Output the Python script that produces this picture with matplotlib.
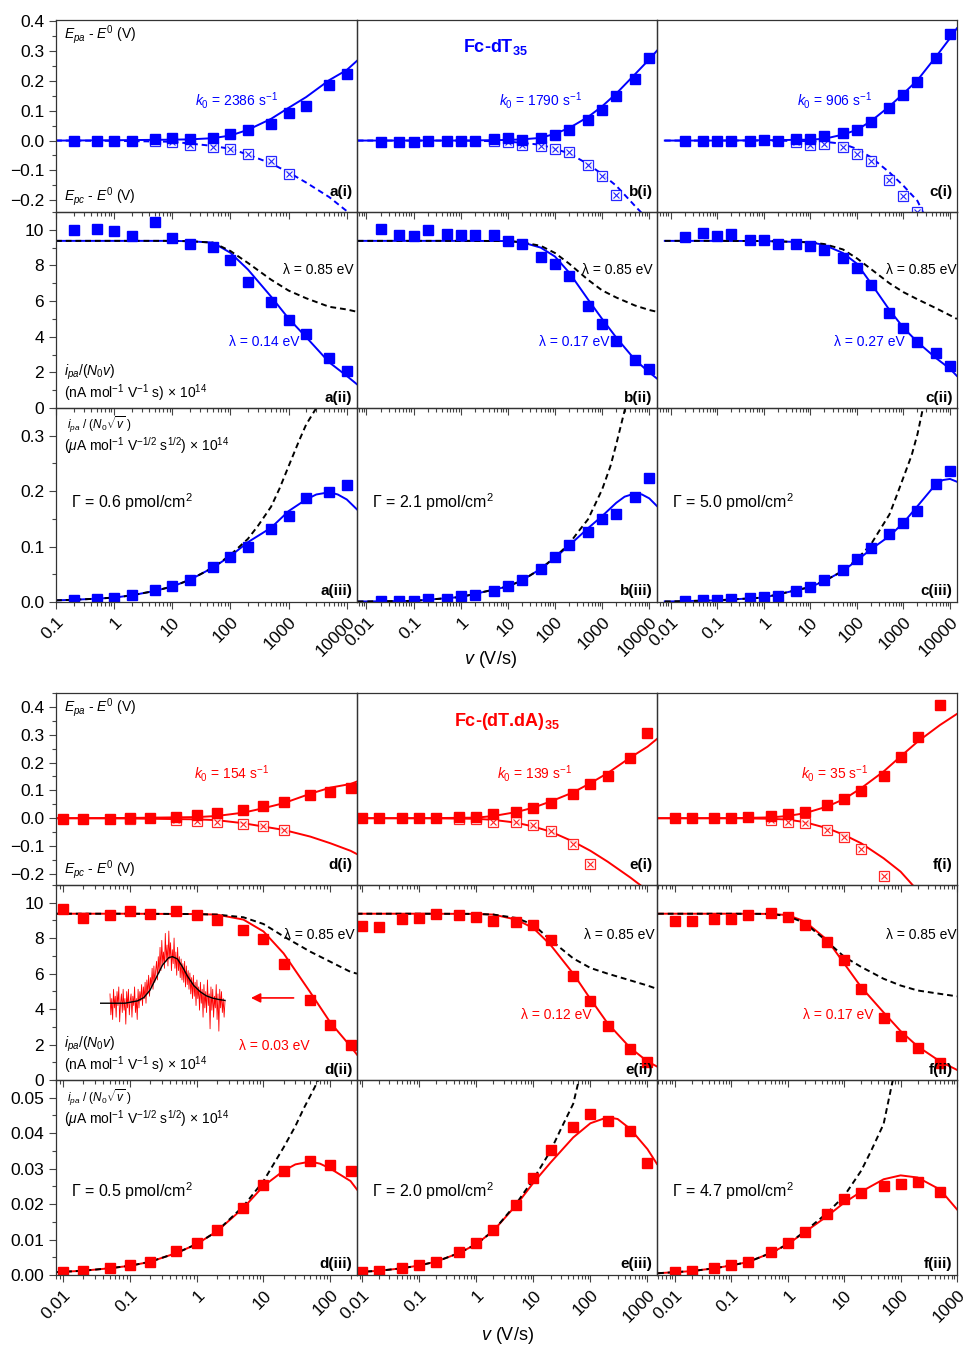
import numpy as np
import matplotlib
matplotlib.use('Agg')
import matplotlib.pyplot as plt
from matplotlib.ticker import MultipleLocator, LogLocator, NullFormatter

plt.rcParams['font.family'] = ['Liberation Sans', 'DejaVu Sans']
plt.rcParams['mathtext.fontset'] = 'custom'
plt.rcParams['mathtext.rm'] = 'Liberation Sans'
plt.rcParams['mathtext.it'] = 'Liberation Sans:italic'
plt.rcParams['mathtext.bf'] = 'Liberation Sans:bold'

# ---------------- data ----------------
# scan rates (V/s)
v_a = [0.2, 0.5, 1, 2, 5, 10, 20, 50, 100, 200, 500, 1000, 2000, 5000, 10000]
v_bc = [0.02, 0.05, 0.1, 0.2, 0.5, 1, 2, 5, 10, 20, 50, 100, 200, 500, 1000, 2000, 5000, 10000]
v_d = [0.01, 0.02, 0.05, 0.1, 0.2, 0.5, 1, 2, 5, 10, 20, 50, 100, 200]
v_e = [0.01, 0.02, 0.05, 0.1, 0.2, 0.5, 1, 2, 5, 10, 20, 50, 100, 200, 500, 1000]
v_f = [0.01, 0.02, 0.05, 0.1, 0.2, 0.5, 1, 2, 5, 10, 20, 50, 100, 200, 500]

# (i) peak potentials  Epa - E0 (filled), Epc - E0 (crossed)
epa_a = [0, 0, 0, 0, 0.006, 0.008, 0.005, 0.009, 0.023, 0.037, 0.056, 0.092, 0.116, 0.185, 0.223]
vc_a = [5, 10, 20, 50, 100, 200, 500, 1000]
epc_a = [-0.002, -0.006, -0.015, -0.023, -0.030, -0.045, -0.070, -0.113]
fitx_a = [0.1, 1, 10, 20, 50, 100, 200, 500, 1000, 2000, 5000, 10000, 15000]
epa_fit_a = [0, 0.001, 0.003, 0.004, 0.008, 0.017, 0.036, 0.073, 0.110, 0.146, 0.203, 0.237, 0.268]
epc_fit_a = [0, -0.001, -0.004, -0.010, -0.018, -0.028, -0.047, -0.077, -0.107, -0.141, -0.190, -0.237, -0.262]

epa_b = [-0.006, -0.006, -0.006, -0.002, -0.002, -0.002, -0.002, 0.006, 0.008, 0.002, 0.009, 0.019,
         0.036, 0.068, 0.104, 0.150, 0.208, 0.276]
vc_b = [5, 10, 20, 50, 100, 200, 500, 1000, 2000]
epc_b = [-0.002, -0.006, -0.014, -0.019, -0.028, -0.040, -0.081, -0.118, -0.182]
fitx_b = [0.0065, 0.1, 1, 10, 20, 50, 100, 200, 500, 1000, 2000, 5000, 10000, 14600]
epa_fit_b = [0, 0, 0, 0.002, 0.004, 0.009, 0.023, 0.042, 0.079, 0.115, 0.158, 0.223, 0.273, 0.302]
epc_fit_b = [0, 0, 0, -0.003, -0.008, -0.014, -0.028, -0.043, -0.079, -0.113, -0.152, -0.220, -0.270, -0.300]

epa_c = [0, 0, 0, 0, 0, 0.002, 0, 0.005, 0.006, 0.014, 0.026, 0.036, 0.064, 0.109, 0.152, 0.198, 0.279, 0.358]
vc_c = [5, 10, 20, 50, 100, 200, 500, 1000, 2000]
epc_c = [-0.006, -0.014, -0.011, -0.020, -0.045, -0.070, -0.133, -0.186, -0.240]
fitx_c = [0.0075, 0.1, 1, 10, 20, 50, 100, 200, 500, 1000, 2000, 5000, 10000, 14000]
epa_fit_c = [0, 0, 0.001, 0.003, 0.006, 0.020, 0.036, 0.065, 0.115, 0.158, 0.203, 0.282, 0.344, 0.377]
fitx_c_cat = [0.0075, 0.1, 1, 10, 20, 50, 100, 200, 500, 1000, 2000, 3000]
epc_fit_c = [0, 0, 0, -0.002, -0.004, -0.011, -0.028, -0.056, -0.107, -0.152, -0.203, -0.260]

epa_d = [-0.004, -0.004, -0.002, 0, 0, 0.006, 0.012, 0.018, 0.030, 0.044, 0.057, 0.084, 0.093, 0.110]
vc_d = [0.1, 0.5, 1, 2, 5, 10, 20]
epc_d = [-0.002, -0.006, -0.010, -0.014, -0.022, -0.029, -0.042]
fitx_d = [0.008, 0.1, 1, 2, 5, 10, 20, 50, 100, 200, 250]
epa_fit_d = [0, 0.001, 0.004, 0.008, 0.020, 0.036, 0.054, 0.088, 0.110, 0.123, 0.132]
epc_fit_d = [0, -0.001, -0.004, -0.007, -0.018, -0.030, -0.042, -0.066, -0.090, -0.117, -0.129]

epa_e = [0, 0, 0, 0, 0, 0.006, 0.004, 0.014, 0.024, 0.036, 0.054, 0.086, 0.123, 0.152, 0.216, 0.305]
vc_e = [0.5, 1, 2, 5, 10, 20, 50, 100]
epc_e = [-0.002, -0.002, -0.012, -0.014, -0.024, -0.046, -0.093, -0.164]
fitx_e = [0.008, 0.1, 1, 2, 5, 10, 20, 50, 100, 200, 500, 1000, 1470]
epa_fit_e = [0, 0, 0.002, 0.008, 0.022, 0.038, 0.060, 0.093, 0.126, 0.162, 0.218, 0.257, 0.285]
epc_fit_e = [0, 0, -0.002, -0.006, -0.016, -0.030, -0.048, -0.084, -0.117, -0.156, -0.213, -0.260, -0.290]

epa_f = [0, 0, 0, 0, 0.004, 0.008, 0.014, 0.022, 0.048, 0.069, 0.098, 0.152, 0.219, 0.291, 0.407]
vc_f = [0.5, 1, 2, 5, 10, 20, 50]
epc_f = [-0.006, -0.014, -0.018, -0.042, -0.066, -0.110, -0.206]
fitx_f = [0.005, 0.1, 0.5, 1, 2, 5, 10, 20, 50, 100, 200, 500, 1000]
epa_fit_f = [0, 0, 0.003, 0.008, 0.018, 0.042, 0.069, 0.108, 0.168, 0.222, 0.275, 0.335, 0.375]
fitx_f_cat = [0.005, 0.1, 0.5, 1, 2, 5, 10, 20, 50, 100, 200]
epc_fit_f = [0, 0, -0.002, -0.005, -0.014, -0.036, -0.060, -0.090, -0.144, -0.192, -0.260]

# (ii) ipa/(N0 v)
ip_a = [10.0, 10.04, 9.94, 9.66, 10.42, 9.55, 9.19, 9.03, 8.33, 7.05, 5.95, 4.94, 4.13, 2.80, 2.05]
ip_fit_a = [9.38, 9.38, 9.38, 9.36, 9.28, 8.71, 7.77, 6.25, 5.02, 3.98, 2.56, 1.80, 1.33]
ip_85_a = [9.38, 9.38, 9.38, 9.36, 9.28, 8.81, 8.14, 7.20, 6.59, 6.16, 5.68, 5.53, 5.40]

ip_b = [10.06, 9.72, 9.66, 10.0, 9.77, 9.72, 9.72, 9.72, 9.38, 9.2, 8.5, 8.1, 7.4, 5.7, 4.7, 3.75, 2.67, 2.2]
ip_fit_b = [9.38, 9.38, 9.38, 9.37, 9.30, 9.0, 8.5, 7.6, 6.1, 5.0, 3.95, 2.7, 2.0, 1.65]
ip_85_b = [9.38, 9.38, 9.38, 9.37, 9.30, 9.1, 8.7, 8.1, 7.2, 6.6, 6.2, 5.75, 5.5, 5.4]

ip_c = [9.6, 9.83, 9.66, 9.77, 9.43, 9.43, 9.2, 9.2, 9.1, 8.86, 8.4, 7.84, 6.93, 5.34, 4.49, 3.69, 3.07, 2.33]
ip_fit_c = [9.38, 9.38, 9.37, 9.30, 9.15, 8.7, 8.1, 7.0, 5.5, 4.5, 3.7, 2.8, 2.2, 1.8]
ip_85_c = [9.38, 9.38, 9.37, 9.30, 9.2, 8.9, 8.4, 7.8, 7.0, 6.5, 6.1, 5.6, 5.2, 5.0]

ip_d = [9.62, 9.14, 9.33, 9.56, 9.39, 9.56, 9.33, 9.01, 8.44, 7.94, 6.57, 4.53, 3.09, 2.0]
ip_fit_d = [9.38, 9.38, 9.36, 9.33, 9.05, 8.38, 7.14, 4.95, 3.24, 1.90, 1.43]
ip_85_d = [9.38, 9.38, 9.36, 9.33, 9.18, 8.80, 8.10, 7.24, 6.67, 6.10, 6.00]

ip_e = [8.67, 8.63, 9.1, 9.14, 9.37, 9.28, 9.22, 8.95, 8.9, 8.72, 7.9, 5.87, 4.48, 3.03, 1.75, 0.99]
ip_fit_e = [9.38, 9.38, 9.37, 9.33, 9.05, 8.57, 7.62, 6.0, 4.57, 3.2, 1.81, 1.05, 0.76]
ip_85_e = [9.38, 9.38, 9.37, 9.33, 9.14, 8.76, 7.9, 6.86, 6.32, 6.0, 5.62, 5.33, 5.14]

ip_f = [8.99, 8.99, 9.1, 9.1, 9.28, 9.43, 9.18, 8.76, 7.81, 6.76, 5.14, 3.52, 2.48, 1.81, 0.95]
ip_fit_f = [9.38, 9.38, 9.37, 9.30, 8.95, 7.9, 6.57, 5.24, 3.81, 2.76, 1.90, 1.05, 0.57]
ip_85_f = [9.38, 9.38, 9.37, 9.24, 8.86, 7.81, 6.95, 6.38, 5.71, 5.33, 5.05, 4.86, 4.72]

# (iii) ipa/(N0 sqrt v)
is_a = [0.004, 0.005, 0.008, 0.012, 0.022, 0.028, 0.039, 0.063, 0.082, 0.100, 0.132, 0.156, 0.187, 0.199, 0.211]
sfitx_a = [0.1, 0.2, 0.5, 1, 2, 5, 10, 20, 50, 100, 200, 500, 1000, 2000, 3000, 5000, 7000, 10000, 15000]
is_fit_a = [0.003, 0.004, 0.006, 0.008, 0.012, 0.020, 0.028, 0.040, 0.062, 0.083, 0.108, 0.134, 0.164,
            0.185, 0.194, 0.198, 0.194, 0.185, 0.167]
s85x_a = [0.1, 0.2, 0.5, 1, 2, 5, 10, 20, 50, 100, 200, 300, 500, 700, 1000, 1500, 2000, 3200]
is_85_a = [0.003, 0.004, 0.006, 0.008, 0.012, 0.020, 0.028, 0.040, 0.062, 0.085, 0.114, 0.138, 0.172,
           0.205, 0.245, 0.290, 0.320, 0.355]

is_b = [0.001, 0.002, 0.002, 0.005, 0.006, 0.010, 0.012, 0.019, 0.028, 0.039, 0.060, 0.082, 0.103, 0.127,
        0.150, 0.159, 0.190, 0.223]
sfitx_b = [0.0065, 0.01, 0.1, 1, 10, 20, 50, 100, 200, 500, 1000, 2000, 3000, 5000, 7000, 10000, 14600]
is_fit_b = [0.001, 0.001, 0.002, 0.009, 0.028, 0.039, 0.060, 0.080, 0.102, 0.133, 0.155, 0.179, 0.190,
            0.196, 0.194, 0.187, 0.173]
s85x_b = [0.0065, 0.01, 0.1, 1, 10, 20, 50, 100, 200, 300, 500, 700, 1000, 1500, 2000, 3200]
is_85_b = [0.001, 0.001, 0.002, 0.009, 0.028, 0.039, 0.060, 0.081, 0.105, 0.125, 0.149, 0.175, 0.203,
           0.245, 0.285, 0.355]

is_c = [0.001, 0.003, 0.003, 0.005, 0.007, 0.009, 0.011, 0.019, 0.027, 0.039, 0.057, 0.077, 0.098, 0.122,
        0.142, 0.165, 0.213, 0.237]
sfitx_c = [0.0075, 0.01, 0.1, 1, 10, 20, 50, 100, 200, 500, 1000, 2000, 5000, 7000, 10000, 14000]
is_fit_c = [0.001, 0.001, 0.003, 0.008, 0.027, 0.038, 0.056, 0.075, 0.095, 0.119, 0.143, 0.173, 0.213,
            0.220, 0.222, 0.217]
s85x_c = [0.0075, 0.01, 0.1, 1, 10, 20, 50, 100, 200, 300, 500, 700, 1000, 1500, 2000, 2700]
is_85_c = [0.001, 0.001, 0.003, 0.008, 0.027, 0.038, 0.056, 0.077, 0.104, 0.128, 0.158, 0.190, 0.225,
           0.265, 0.303, 0.355]

is_d = [0.0009, 0.0011, 0.0021, 0.0027, 0.0038, 0.0068, 0.0090, 0.0128, 0.0188, 0.0253, 0.0292, 0.0322, 0.0310, 0.0292]
sfitx_d = [0.008, 0.01, 0.02, 0.05, 0.1, 0.2, 0.5, 1, 2, 5, 10, 20, 30, 50, 70, 100, 200, 250]
is_fit_d = [0.0008, 0.0009, 0.0012, 0.0019, 0.0026, 0.0037, 0.0062, 0.0087, 0.0123, 0.0189, 0.0251, 0.0294,
            0.0312, 0.0320, 0.0314, 0.0300, 0.0265, 0.0241]
s85x_d = [0.008, 0.01, 0.02, 0.05, 0.1, 0.2, 0.5, 1, 2, 5, 10, 20, 30, 40, 55, 70]
is_85_d = [0.0008, 0.0009, 0.0012, 0.0019, 0.0026, 0.0037, 0.0062, 0.0087, 0.0123, 0.0194, 0.0265, 0.036,
           0.042, 0.047, 0.052, 0.056]

is_e = [0.0009, 0.0011, 0.0019, 0.0027, 0.0038, 0.0064, 0.009, 0.0128, 0.0197, 0.0275, 0.0352, 0.0417, 0.0453,
        0.0433, 0.0405, 0.0317]
sfitx_e = [0.008, 0.01, 0.02, 0.05, 0.1, 0.2, 0.5, 1, 2, 5, 10, 20, 50, 100, 200, 300, 500, 1000, 1470]
is_fit_e = [0.0008, 0.0009, 0.0012, 0.0019, 0.0027, 0.0038, 0.0062, 0.0087, 0.0125, 0.0197, 0.026, 0.0317,
            0.0388, 0.0428, 0.0445, 0.0440, 0.0412, 0.0355, 0.0313]
s85x_e = [0.008, 0.01, 0.02, 0.05, 0.1, 0.2, 0.5, 1, 2, 5, 10, 20, 30, 50, 65]
is_85_e = [0.0008, 0.0009, 0.0012, 0.0019, 0.0027, 0.0038, 0.0062, 0.0087, 0.0125, 0.0201, 0.027, 0.035,
           0.041, 0.0483, 0.056]

is_f = [0.0009, 0.0011, 0.0021, 0.0028, 0.0038, 0.0064, 0.009, 0.0121, 0.0172, 0.0213, 0.0232, 0.0251, 0.0256,
        0.0263, 0.0235]
sfitx_f = [0.005, 0.01, 0.02, 0.05, 0.1, 0.2, 0.5, 1, 2, 5, 10, 20, 50, 100, 200, 500, 1000]
is_fit_f = [0.0005, 0.0008, 0.0011, 0.0019, 0.0027, 0.0037, 0.0062, 0.0087, 0.0121, 0.0166, 0.0204, 0.0235,
            0.027, 0.0281, 0.0275, 0.0241, 0.0185]
s85x_f = [0.005, 0.01, 0.02, 0.05, 0.1, 0.2, 0.5, 1, 2, 5, 10, 20, 30, 50, 75]
is_85_f = [0.0005, 0.0008, 0.0011, 0.0019, 0.0027, 0.0037, 0.0062, 0.0087, 0.0123, 0.0175, 0.0223, 0.0294,
           0.035, 0.0426, 0.056]

# inset in d(ii): noisy voltammogram and its fit (arbitrary units)
inset_noise = [0.2, -0.25, 0.1, -0.35, 0.3, -0.1, 0.15, -0.3, 0.25, -0.05, 0.35, -0.4, 0.0, 0.2, -0.2, 0.3,
               -0.15, 0.1, -0.45, 0.25, -0.1, 0.3, -0.25, 0.05, 0.2, -0.3, 0.15, -0.05, 0.35, -0.2, 0.1, -0.35,
               0.3, -0.1, 0.25, 0.05, 0.4, -0.05, 0.35, 0.1, 0.45, 0.0, 0.5, 0.2, 0.6, 0.15, 0.55, 0.35,
               0.75, 0.3, 0.8, 0.45, 0.7, 0.9,
               0.5, 1.0, 0.65, 1.2, 0.7, 1.35, 0.85, 1.1, 0.75, 1.5, 0.9, 1.25, 0.8, 1.55, 0.95, 1.3,
               0.7, 1.15, 0.85, 1.4, 0.75, 1.1, 0.6, 1.2, 0.7, 1.0, 0.55, 0.95, 0.5, 0.85, 0.45, 0.9,
               0.35, 0.8, 0.4, 0.7,
               0.3, 0.65, 0.2, 0.55, 0.1, 0.6, 0.15, 0.45, -0.05, 0.5, 0.1, 0.35, -0.15, 0.45, 0.0, 0.3,
               -0.3, 0.4, -0.1, 0.25, -0.2, 0.5, -0.05, 0.2, -0.55, 0.35, -0.15, 0.3, -0.3, 0.15, -0.1, 0.4,
               -0.35, 0.2, -0.6, 0.3, -0.1, 0.25, -0.2, 0.1, -0.3, 0.05]
inset_fit_x = [0, 0.1, 0.2, 0.3, 0.35, 0.4, 0.45, 0.5, 0.55, 0.58, 0.62, 0.66, 0.7, 0.75, 0.8, 0.85, 0.9, 0.95, 1.0]
inset_fit = [0, 0, 0, 0.05, 0.12, 0.28, 0.55, 0.82, 0.98, 1.0, 0.95, 0.78, 0.58, 0.38, 0.25, 0.16, 0.11, 0.08, 0.06]

k0_labels = ['2386', '1790', '906', '154', '139', '35']
lam_labels = ['0.14', '0.17', '0.27', '0.03', '0.12', '0.17']
gamma_labels = ['0.6', '2.1', '5.0', '0.5', '2.0', '4.7']
panel_ids = ['a', 'b', 'c', 'd', 'e', 'f']

xt_a = [0.1, 1, 10, 100, 1000, 10000]
xt_bc = [0.01, 0.1, 1, 10, 100, 1000, 10000]
xt_d = [0.01, 0.1, 1, 10, 100]
xt_ef = [0.01, 0.1, 1, 10, 100, 1000]

# ---------------- figure ----------------
blue = '#0000ff'
red = '#ff0000'
W, H = 963, 1345
fig = plt.figure(figsize=(W / 100, H / 100), dpi=100)

col_x = [(56, 357), (357, 657), (657, 957)]
top_rows = [(20, 212), (212, 408), (408, 602)]
bot_rows = [(693, 885), (885, 1080), (1080, 1275)]


def px_axes(x0, x1, y0, y1):
    return fig.add_axes([x0 / W, 1 - y1 / H, (x1 - x0) / W, (y1 - y0) / H])


def frame(ax, xlim, xt, ylim, yt, ylab, ymin, col, row):
    ax.set_xscale('log')
    ax.set_xlim(*xlim)
    ax.set_ylim(*ylim)
    ax.set_xticks(xt)
    ax.set_xticklabels(['%g' % t for t in xt], rotation=45, ha='right', rotation_mode='anchor')
    ax.xaxis.set_minor_locator(LogLocator(base=10, subs=np.arange(2, 10), numticks=30))
    ax.xaxis.set_minor_formatter(NullFormatter())
    ax.set_yticks(yt)
    ax.set_yticklabels(ylab)
    ax.yaxis.set_minor_locator(MultipleLocator(ymin))
    ax.tick_params(which='both', direction='out', color='#444444', width=0.8, labelsize=12.5)
    ax.tick_params(which='major', length=5)
    ax.tick_params(which='minor', length=3)
    ax.tick_params(axis='x', pad=4)
    if col > 0:
        ax.tick_params(axis='y', which='both', left=False, labelleft=False)
    if row < 2:
        ax.tick_params(axis='x', labelbottom=False)
    for s in ax.spines.values():
        s.set_color('#333333')
        s.set_linewidth(0.9)
    ax.patch.set_alpha(0)


dash = (0, (3, 2))
k85pos = {True: [(0.99, 0.704), (0.987, 0.704), (1.0, 0.704)],
          False: [(0.757, 0.744), (0.993, 0.744), (0.763, 0.744)]}


def draw_block(rows, color, xlims, xts, peak, curr, sqr, ylim1, ylim3, yt3, ylab3, ymin3, k0pos, lampos, first):
    d2 = None
    for c in range(3):
        x0, x1 = col_x[c]
        idx = c + (0 if first else 3)
        pid = panel_ids[idx]
        # row (i)
        ax = px_axes(x0, x1, *rows[0])
        frame(ax, xlims[c], xts[c], ylim1, [-0.2, -0.1, 0, 0.1, 0.2, 0.3, 0.4],
              ['\u22120.2', '\u22120.1', '0.0', '0.1', '0.2', '0.3', '0.4'], 0.05, c, 0)
        v, epa, vc, epc, fx, ef, fxc, ecf = peak[c]
        ax.plot(fx, ef, color=color, lw=1.4)
        ax.plot(fxc, ecf, color=color, lw=1.4, ls=dash if first else '-')
        ax.plot(vc, epc, 's', ms=6.5, mfc='white', mec=color, mew=0.9, alpha=0.85)
        ax.plot(vc, epc, 'x', ms=4.2, mec=color, mew=0.8, alpha=0.85)
        ax.plot(v, epa, 's', ms=7.5, color=color)
        ax.text(k0pos[c], 0.583, r'$k_{\mathit{0}}$ = %s s$^{-1}$' % k0_labels[idx], color=color, fontsize=10,
                ha='center', va='center', transform=ax.transAxes)
        ax.text(0.985, 0.105, pid + '(i)', fontsize=11, fontweight='bold', ha='right', va='center',
                transform=ax.transAxes)
        if c == 0:
            ax.text(0.027, 0.925, r'$E_{pa}$ - $E^{\mathit{0}}$ (V)', fontsize=10, va='center',
                    transform=ax.transAxes)
            ax.text(0.027, 0.078, r'$E_{pc}$ - $E^{\mathit{0}}$ (V)', fontsize=10, va='center',
                    transform=ax.transAxes)
        # row (ii)
        ax = px_axes(x0, x1, *rows[1])
        frame(ax, xlims[c], xts[c], (0, 11), [0, 2, 4, 6, 8, 10], ['0', '2', '4', '6', '8', '10'], 1, c, 1)
        v, ip, fx, fit, f85 = curr[c]
        ax.plot(fx, fit, color=color, lw=1.4)
        ax.plot(fx, f85, color='black', lw=1.4, ls=dash)
        ax.plot(v, ip, 's', ms=7.5, color=color)
        lx, ly, lha = lampos[c]
        ax.text(lx, ly, '\u03bb = %s eV' % lam_labels[idx], color=color, fontsize=10, ha='right',
                va='center', transform=ax.transAxes)
        ax.text(*k85pos[first][c], '\u03bb = 0.85 eV', fontsize=10, ha=lha, va='center',
                transform=ax.transAxes, clip_on=True)
        ax.text(0.985, 0.05, pid + '(ii)', fontsize=11, fontweight='bold', ha='right', va='center',
                transform=ax.transAxes)
        if c == 0:
            ax.text(0.027, 0.184, r'$i_{pa}$/($N_{\mathit{0}}v$)', fontsize=10, va='center',
                    transform=ax.transAxes)
            ax.text(0.027, 0.075, r'(nA mol$^{-1}$ V$^{-1}$ s) $\times$ 10$^{14}$', fontsize=10,
                    va='center', transform=ax.transAxes)
            d2 = ax
        # row (iii)
        ax = px_axes(x0, x1, *rows[2])
        frame(ax, xlims[c], xts[c], ylim3, yt3, ylab3, ymin3, c, 2)
        v, isq, fx, fit, fx85, f85 = sqr[c]
        ax.plot(fx, fit, color=color, lw=1.4)
        ax.plot(fx85, f85, color='black', lw=1.4, ls=dash)
        ax.plot(v, isq, 's', ms=7.5, color=color)
        ax.text(0.05, 0.515 if first else 0.43, '\u0393 = %s pmol/cm$^2$' % gamma_labels[idx], fontsize=11.5,
                va='center', transform=ax.transAxes)
        ax.text(0.985, 0.055, pid + '(iii)', fontsize=11, fontweight='bold', ha='right', va='center',
                transform=ax.transAxes)
        if c == 0:
            ax.text(0.037, 0.912, r'$i_{pa}$ / ($N_{\mathit{0}}\sqrt{v}$ )', fontsize=8.5, va='center',
                    transform=ax.transAxes)
            ax.text(0.027, 0.804, r'($\mu$A mol$^{-1}$ V$^{-1/2}$ s$^{1/2}$) $\times$ 10$^{14}$', fontsize=10,
                    va='center', transform=ax.transAxes)
    return d2


# top block: Fc-dT35
draw_block(top_rows, blue,
           [(0.1, 15000), (0.0063, 14600), (0.0051, 14100)], [xt_a, xt_bc, xt_bc],
           [(v_a, epa_a, vc_a, epc_a, fitx_a, epa_fit_a, fitx_a, epc_fit_a),
            (v_bc, epa_b, vc_b, epc_b, fitx_b, epa_fit_b, fitx_b, epc_fit_b),
            (v_bc, epa_c, vc_c, epc_c, fitx_c, epa_fit_c, fitx_c_cat, epc_fit_c)],
           [(v_a, ip_a, fitx_a, ip_fit_a, ip_85_a),
            (v_bc, ip_b, fitx_b, ip_fit_b, ip_85_b),
            (v_bc, ip_c, fitx_c, ip_fit_c, ip_85_c)],
           [(v_a, is_a, sfitx_a, is_fit_a, s85x_a, is_85_a),
            (v_bc, is_b, sfitx_b, is_fit_b, s85x_b, is_85_b),
            (v_bc, is_c, sfitx_c, is_fit_c, s85x_c, is_85_c)],
           (-0.24, 0.405), (0, 0.35), [0, 0.1, 0.2, 0.3], ['0.0', '0.1', '0.2', '0.3'], 0.05,
           [0.60, 0.61, 0.593],
           [(0.81, 0.337, 'right'), (0.843, 0.337, 'right'), (0.827, 0.337, 'right')],
           True)

# bottom block: Fc-(dT.dA)35
d2 = draw_block(bot_rows, red,
                [(0.0079, 250), (0.0081, 1470), (0.0048, 1000)], [xt_d, xt_ef, xt_ef],
                [(v_d, epa_d, vc_d, epc_d, fitx_d, epa_fit_d, fitx_d, epc_fit_d),
                 (v_e, epa_e, vc_e, epc_e, fitx_e, epa_fit_e, fitx_e, epc_fit_e),
                 (v_f, epa_f, vc_f, epc_f, fitx_f, epa_fit_f, fitx_f_cat, epc_fit_f)],
                [(v_d, ip_d, fitx_d, ip_fit_d, ip_85_d),
                 (v_e, ip_e, fitx_e, ip_fit_e, ip_85_e),
                 (v_f, ip_f, fitx_f, ip_fit_f, ip_85_f)],
                [(v_d, is_d, sfitx_d, is_fit_d, s85x_d, is_85_d),
                 (v_e, is_e, sfitx_e, is_fit_e, s85x_e, is_85_e),
                 (v_f, is_f, sfitx_f, is_fit_f, s85x_f, is_85_f)],
                (-0.24, 0.45), (0, 0.055), [0, 0.01, 0.02, 0.03, 0.04, 0.05],
                ['0.00', '0.01', '0.02', '0.03', '0.04', '0.05'], 0.005,
                [0.585, 0.593, 0.593],
                [(0.844, 0.174, 'left'), (0.783, 0.333, 'right'), (0.72, 0.333, 'left')],
                False)

# arrow pointing to the inset in d(ii)
d2.annotate('', xy=(5.9, 4.63), xytext=(31, 4.63),
            arrowprops=dict(arrowstyle='-|>', color=red, lw=1.2, mutation_scale=14))

# inset voltammogram
ins = fig.add_axes([100 / W, 1 - 1040 / H, 130 / W, 115 / H])
ins.set_xlim(0, 1.04)
ins.set_ylim(-0.79, 1.68)
ins.axis('off')
ins.plot(np.linspace(0.08, 1.0, len(inset_noise)), inset_noise, color=red, lw=0.6)
ins.plot(inset_fit_x, inset_fit, color='black', lw=1.0)

# titles and axis labels
fig.text(495 / W, 1 - 47 / H, r'Fc-dT$_\mathbf{35}$', color=blue, fontsize=13, fontweight='bold',
         ha='center', va='center')
fig.text(507 / W, 1 - 722 / H, r'Fc-(dT.dA)$_\mathbf{35}$', color=red, fontsize=13, fontweight='bold',
         ha='center', va='center')
fig.text(490 / W, 1 - 660 / H, r'$v$ (V/s)', fontsize=13, ha='center', va='center')
fig.text(507 / W, 1 - 1335 / H, r'$v$ (V/s)', fontsize=13, ha='center', va='center')

fig.savefig('out.png', dpi=100)
